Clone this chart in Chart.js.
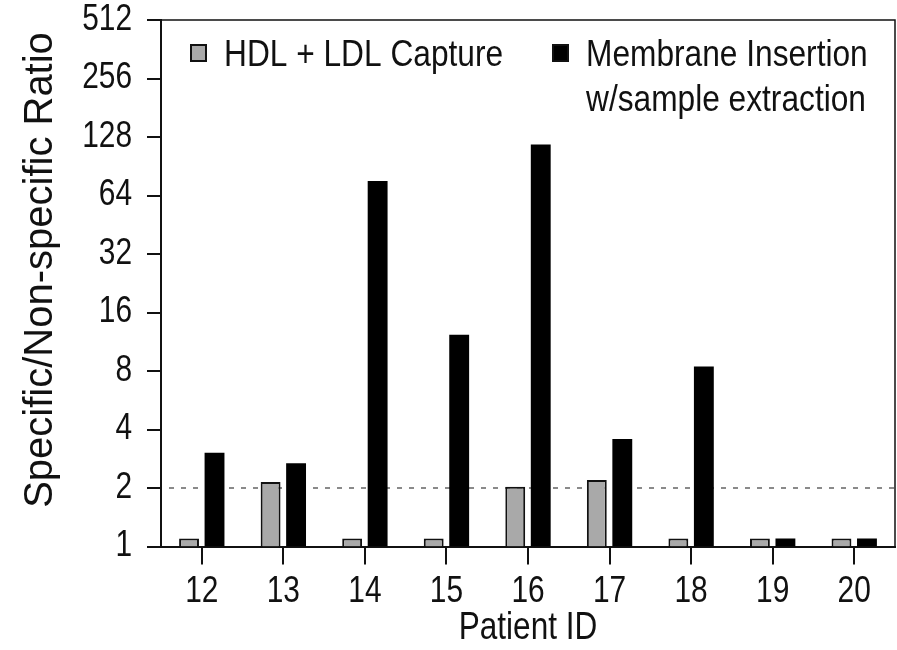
<!DOCTYPE html>
<html>
<head>
<meta charset="utf-8">
<script src="https://cdn.jsdelivr.net/npm/chart.js@4/dist/chart.umd.min.js"></script>
<style>
  html, body { margin: 0; padding: 0; background: #fff; }
  canvas { display: block; }
</style>
</head>
<body>
<canvas id="chart" width="897" height="650"></canvas>
<script>
// Patient IDs along the x axis
const patientIds = ['12', '13', '14', '15', '16', '17', '18', '19', '20'];
// Specific / non-specific signal ratio per patient
const captureRatio   = [1.1, 2.15, 1.1, 1.1, 2.03, 2.2, 1.1, 1.1, 1.1];
const insertionRatio = [3.04, 2.68, 76, 12.3, 117, 3.57, 8.45, 1.1, 1.1];
// Log2 tick values on the ratio axis
const ratioTicks = [1, 2, 4, 8, 16, 32, 64, 128, 256, 512];
// Reference ratio drawn as a dashed line
const thresholdRatio = 2;
// Axis titles
const xTitle = 'Patient ID';
const yTitle = 'Specific/Non-specific Ratio';
// Legend text (second entry wraps onto two lines)
const captureLegend = ['HDL + LDL Capture'];
const insertionLegend = ['Membrane Insertion', 'w/sample extraction'];

const FONT = "'Liberation Sans', Arial, sans-serif";
const INK = '#111';

// Horizontal text is set in a condensed style: glyphs are narrowed around
// their anchor point. Rotated text is left untouched.
const condensedText = {
  id: 'condensedText',
  beforeInit(chart) {
    const ctx = chart.ctx;
    const plain = ctx.fillText.bind(ctx);
    ctx.condense = 1;
    ctx.fillText = function (text, x, y, maxWidth) {
      const m = this.getTransform();
      if (this.condense !== 1 && m.b === 0 && m.c === 0) {
        this.save();
        this.translate(x, y);
        this.scale(this.condense, 1);
        plain(text, 0, 0);
        this.restore();
      } else if (maxWidth === undefined) {
        plain(text, x, y);
      } else {
        plain(text, x, y, maxWidth);
      }
    };
  },
  beforeDraw(chart) { chart.ctx.condense = 0.83; },
  afterDraw(chart) { chart.ctx.condense = 1; }
};

// Dashed reference line behind the bars
const thresholdLine = {
  id: 'thresholdLine',
  beforeDatasetsDraw(chart) {
    const { ctx, chartArea, scales } = chart;
    const y = scales.y.getPixelForValue(thresholdRatio);
    ctx.save();
    ctx.strokeStyle = '#8a8a8a';
    ctx.lineWidth = 2;
    ctx.setLineDash([5, 7]);
    ctx.beginPath();
    ctx.moveTo(chartArea.left + 8, y);
    ctx.lineTo(chartArea.right, y);
    ctx.stroke();
    ctx.restore();
  }
};

// Top and right edges of the plot frame
const plotFrame = {
  id: 'plotFrame',
  afterDraw(chart) {
    const { ctx, chartArea } = chart;
    ctx.save();
    ctx.strokeStyle = INK;
    ctx.lineWidth = 1.5;
    ctx.beginPath();
    ctx.moveTo(chartArea.left, chartArea.top);
    ctx.lineTo(chartArea.right, chartArea.top);
    ctx.lineTo(chartArea.right, chartArea.bottom);
    ctx.stroke();
    ctx.restore();
  }
};

// Vertical axis title, centred on the upper part of the axis
const ratioAxisTitle = {
  id: 'ratioAxisTitle',
  afterDraw(chart) {
    const { ctx } = chart;
    ctx.save();
    ctx.translate(51.5, 270);
    ctx.rotate(-Math.PI / 2);
    ctx.font = `40px ${FONT}`;
    ctx.fillStyle = INK;
    ctx.textAlign = 'center';
    ctx.textBaseline = 'alphabetic';
    ctx.fillText(yTitle, 0, 0);
    ctx.restore();
  }
};

// Legend inside the plot area, upper part
const insideLegend = {
  id: 'insideLegend',
  afterDraw(chart) {
    const { ctx, chartArea } = chart;
    const entries = [
      { ds: chart.data.datasets[0], lines: captureLegend, x: chartArea.left + 29 },
      { ds: chart.data.datasets[1], lines: insertionLegend, x: chartArea.left + 391 }
    ];
    const boxTop = chartArea.top + 24;
    const firstBaseline = chartArea.top + 46;
    const lineStep = 45;
    ctx.save();
    ctx.condense = 0.88;
    ctx.font = `36px ${FONT}`;
    ctx.textBaseline = 'alphabetic';
    ctx.textAlign = 'left';
    entries.forEach(e => {
      ctx.fillStyle = e.ds.backgroundColor;
      ctx.fillRect(e.x, boxTop, 17, 18);
      ctx.strokeStyle = INK;
      ctx.lineWidth = 2;
      ctx.strokeRect(e.x + 1, boxTop + 1, 15, 16);
      ctx.fillStyle = INK;
      e.lines.forEach((t, i) => ctx.fillText(t, e.x + 34, firstBaseline + i * lineStep));
    });
    ctx.restore();
    ctx.condense = 1;
  }
};

new Chart(document.getElementById('chart'), {
  type: 'bar',
  data: {
    labels: patientIds,
    datasets: [
      {
        label: captureLegend.join(' '),
        data: captureRatio,
        backgroundColor: '#a9a9a9',
        borderColor: INK,
        borderWidth: 2,
        categoryPercentage: 0.625,
        barPercentage: 0.78
      },
      {
        label: insertionLegend.join(' '),
        data: insertionRatio,
        backgroundColor: '#000000',
        borderColor: '#000000',
        borderWidth: 0,
        categoryPercentage: 0.625,
        barPercentage: 0.78
      }
    ]
  },
  options: {
    responsive: false,
    animation: false,
    devicePixelRatio: 1,
    layout: { padding: { top: 20, right: 2, bottom: 0, left: 0 } },
    plugins: {
      legend: { display: false },
      tooltip: { enabled: false }
    },
    scales: {
      x: {
        grid: {
          display: true, drawOnChartArea: false, drawTicks: true,
          tickLength: 18, offset: false, color: INK, lineWidth: 2
        },
        border: { display: true, color: INK, width: 2 },
        ticks: { color: INK, font: { family: FONT, size: 36, lineHeight: 1 }, padding: 10 },
        title: {
          display: true, text: xTitle, color: INK,
          font: { family: FONT, size: 38, lineHeight: 1 },
          padding: { top: 0, bottom: 2 }
        },
        afterFit(s) { s.height = 103.5; }
      },
      y: {
        type: 'logarithmic',
        min: 1,
        max: 512,
        grid: {
          display: true, drawOnChartArea: false, drawTicks: true,
          tickLength: 14, color: INK, lineWidth: 2
        },
        border: { display: true, color: INK, width: 2 },
        ticks: {
          color: INK, autoSkip: false, padding: 15,
          font: { family: FONT, size: 36, lineHeight: 1 },
          callback: v => String(v)
        },
        afterBuildTicks(s) { s.ticks = ratioTicks.map(v => ({ value: v })); },
        title: { display: false },
        afterFit(s) {
          s.width = 161;
          s.paddingTop = 0;
          s.paddingBottom = 0;
        }
      }
    }
  },
  plugins: [condensedText, thresholdLine, plotFrame, ratioAxisTitle, insideLegend]
});
</script>
</body>
</html>
